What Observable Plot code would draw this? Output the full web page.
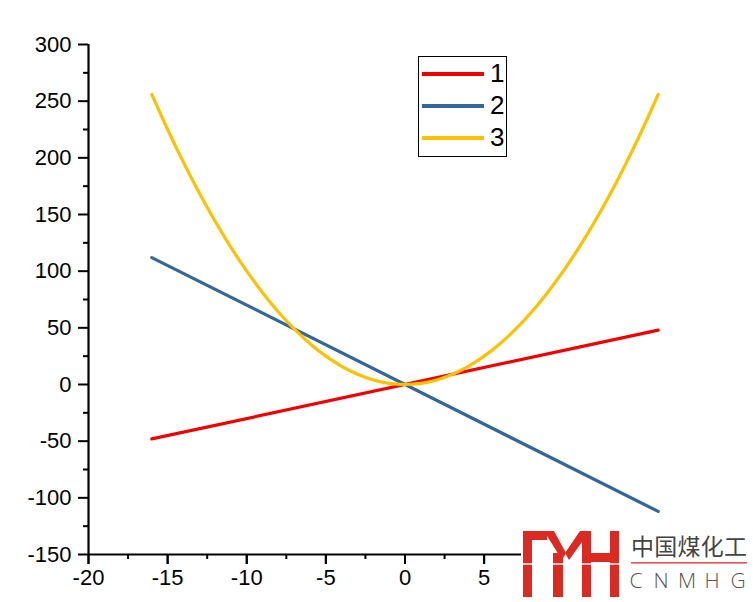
<!DOCTYPE html>
<html>
<head>
<meta charset="utf-8">
<script src="https://cdn.jsdelivr.net/npm/d3@7"></script>
<script src="https://cdn.jsdelivr.net/npm/@observablehq/plot@0.6"></script>
<style>
  html, body { margin: 0; padding: 0; background: #fff; }
  #wrap { position: relative; width: 753px; height: 602px; overflow: hidden; font-family: "Liberation Sans", Arial, sans-serif; }
  #chart { position: absolute; left: 0; top: 0; }
  .legend { position: absolute; left: 418px; top: 56px; width: 87px; height: 99px; border: 1.5px solid #000; background: #fff; }
  .legend .row { position: absolute; left: 2px; height: 26px; }
  .legend .sw { position: absolute; left: 1px; width: 62px; height: 3.5px; top: 11px; }
  .legend .lb { position: absolute; left: 69px; top: -3px; font-size: 26px; line-height: 30px; color: #000; }
  .wm { position: absolute; }
</style>
</head>
<body>
<div id="wrap">
  <div id="chart"></div>
</div>
<script>
// Series names and colours
const seriesNames = ["1", "2", "3"];
const seriesColors = ["#f20000", "#336699", "#ffc000"];

// Series 1 (straight line)
const x1 = [-16, 16];
const y1 = [-48, 48];
// Series 2 (straight line)
const x2 = [-16, 16];
const y2 = [112, -112];
// Series 3 (parabola)
const x3 = [-16, -15, -14, -13, -12, -11, -10, -9, -8, -7, -6, -5, -4, -3, -2, -1, 0, 1, 2, 3, 4, 5, 6, 7, 8, 9, 10, 11, 12, 13, 14, 15, 16];
const y3 = [256, 225, 196, 169, 144, 121, 100, 81, 64, 49, 36, 25, 16, 9, 4, 1, 0, 1, 4, 9, 16, 25, 36, 49, 64, 81, 100, 121, 144, 169, 196, 225, 256];

// Axes
const xDomain = [-20, 20];
const yDomain = [-150, 300];
const xTicks = [-20, -15, -10, -5, 0, 5, 10, 15, 20];
const xTickLabels = [-20, -15, -10, -5, 0, 5]; // the rest are hidden behind the logo
const xMinor = [-17.5, -12.5, -7.5, -2.5, 2.5, 7.5, 12.5, 17.5];
const yTicks = [-150, -100, -50, 0, 50, 100, 150, 200, 250, 300];
const yMinor = [-125, -75, -25, 25, 75, 125, 175, 225, 275];

const toRows = (xs, ys, s) => xs.map((x, i) => ({x, y: ys[i], s}));
const d1 = toRows(x1, y1, seriesNames[0]);
const d2 = toRows(x2, y2, seriesNames[1]);
const d3 = toRows(x3, y3, seriesNames[2]);

const fmt = d => String(d);
const noLabel = () => "";

const plot = Plot.plot({
  width: 753,
  height: 602,
  marginLeft: 88,
  marginRight: 32,
  marginTop: 44,
  marginBottom: 48,
  style: { fontFamily: "'Liberation Sans', Arial, sans-serif", fontSize: "22px", color: "#000", background: "#fff" },
  x: { domain: xDomain },
  y: { domain: yDomain },
  marks: [
    Plot.axisX({ ticks: xMinor, tickSize: 5, tickFormat: noLabel, strokeWidth: 2, label: null }),
    Plot.axisY({ ticks: yMinor, tickSize: 5, tickFormat: noLabel, strokeWidth: 2, label: null }),
    Plot.axisX({ ticks: xTicks, tickSize: 10, tickFormat: noLabel, strokeWidth: 2, label: null }),
    Plot.axisX({ ticks: xTickLabels, tickSize: 10, tickPadding: 5, strokeWidth: 2, label: null, fontSize: 22, tickFormat: fmt }),
    Plot.axisY({ ticks: yTicks, tickSize: 10, tickPadding: 7, strokeWidth: 2, label: null, fontSize: 22, tickFormat: fmt }),
    Plot.ruleY([yDomain[0]], { stroke: "#000", strokeWidth: 2.2 }),
    Plot.ruleX([xDomain[0]], { stroke: "#000", strokeWidth: 2.2 }),
    Plot.line(d1, { x: "x", y: "y", stroke: seriesColors[0], strokeWidth: 3.2 }),
    Plot.line(d2, { x: "x", y: "y", stroke: seriesColors[1], strokeWidth: 3.2 }),
    Plot.line(d3, { x: "x", y: "y", stroke: seriesColors[2], strokeWidth: 3.2, curve: "catmull-rom" })
  ]
});
document.getElementById("chart").appendChild(plot);

// Legend
const wrap = document.getElementById("wrap");
const leg = document.createElement("div");
leg.className = "legend";
seriesNames.forEach((n, i) => {
  const row = document.createElement("div");
  row.className = "row";
  row.style.top = (4 + i * 32) + "px";
  row.innerHTML = `<div class="sw" style="background:${seriesColors[i]}"></div><div class="lb">${n}</div>`;
  leg.appendChild(row);
});
wrap.appendChild(leg);

// Watermark logo
const wm = document.createElement("div");
wm.className = "wm";
wm.style.left = "0px"; wm.style.top = "0px";
wm.innerHTML = `
<svg width="753" height="602" style="position:absolute;left:0;top:0">
  <rect x="521" y="528" width="232" height="74" fill="#fff"/>
  <g fill="#da2a22">
    <rect x="523" y="531" width="9" height="66"/>
    <rect x="523" y="531" width="24" height="9"/>
    <polygon points="544,531 554,531 566,553 562,560"/>
    <polygon points="580,531 590,531 569,560 565,553"/>
    <rect x="553" y="553" width="10" height="44"/>
    <rect x="582" y="531" width="9" height="66"/>
    <rect x="610" y="531" width="9" height="66"/>
    <rect x="582" y="553" width="37" height="9"/>
  </g>
  <rect x="523" y="563" width="96" height="2" fill="#fff" opacity="0.7"/>
  <text x="631" y="555" font-family="'Noto Sans CJK SC'" font-size="23" fill="#444" textLength="116" lengthAdjust="spacing">中国煤化工</text>
  <rect x="631" y="562" width="116" height="1.6" fill="#e05555"/>
  <g font-family="'Open Sans', 'Liberation Sans', sans-serif" font-size="21" fill="#555" text-anchor="middle" font-weight="300">
    <text x="636" y="588">C</text>
    <text x="661" y="588">N</text>
    <text x="687" y="588">M</text>
    <text x="712" y="588">H</text>
    <text x="738" y="588">G</text>
  </g>
</svg>`;
wrap.appendChild(wm);
</script>
</body>
</html>
